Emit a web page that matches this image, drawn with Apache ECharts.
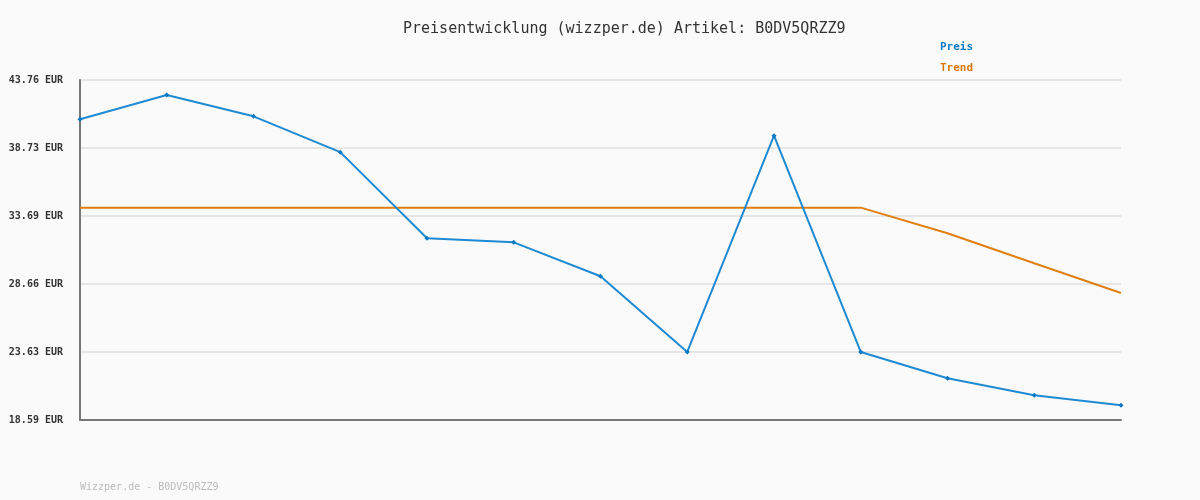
<!DOCTYPE html>
<html>
<head>
<meta charset="utf-8">
<script src="https://cdn.jsdelivr.net/npm/echarts@6/dist/echarts.min.js"></script>
<style>html,body{margin:0;padding:0;background:#fafafa}#c{width:1200px;height:500px}</style>
</head>
<body>
<div id="c"></div>
<script>
const categories = ['1','2','3','4','5','6','7','8','9','10','11','12','13'];
const preis = [40.85, 42.65, 41.07, 38.42, 32.04, 31.74, 29.23, 23.63, 39.64, 23.63, 21.68, 20.42, 19.68];
const trend = [34.31, 34.31, 34.31, 34.31, 34.31, 34.31, 34.31, 34.31, 34.31, 34.31, 32.41, 30.19, 27.99];
const yMin = 18.59, yMax = 43.76;
const yTicks = [18.59, 23.63, 28.66, 33.69, 38.73, 43.76];
const titleText = 'Preisentwicklung (wizzper.de) Artikel: B0DV5QRZZ9';
const footerText = 'Wizzper.de - B0DV5QRZZ9';

const chart = echarts.init(document.getElementById('c'), null, {renderer: 'canvas'});
const mono = '"DejaVu Sans Mono", "Liberation Mono", monospace';
chart.setOption({
  backgroundColor: '#fafafa',
  animation: false,
  title: {
    text: titleText, left: 398, top: 17,
    textStyle: {fontFamily: mono, fontSize: 15, fontWeight: 'normal', color: '#333'}
  },
  legend: {
    orient: 'vertical', left: 935, top: 37, itemGap: 10,
    itemWidth: 0, itemHeight: 0, icon: 'rect',
    textStyle: {fontFamily: mono, fontSize: 11, fontWeight: 'bold', padding: [0,0,0,-5]},
    data: [
      {name: 'Preis', textStyle: {color: '#0a7bc8'}},
      {name: 'Trend', textStyle: {color: '#d9780a'}}
    ]
  },
  graphic: [{
    type: 'text', left: 80, top: 482,
    style: {text: footerText, fill: '#bbbbbb', font: '10px ' + mono}
  }],
  grid: {left: 80, right: 79, top: 80, bottom: 80, containLabel: false},
  xAxis: {
    type: 'category', data: categories, boundaryGap: false,
    axisLine: {lineStyle: {color: '#777', width: 2}},
    axisTick: {show: false}, axisLabel: {show: false}, splitLine: {show: false}
  },
  yAxis: {
    type: 'value', min: yMin, max: yMax, interval: (yMax - yMin) / 5,
    axisLine: {show: true, lineStyle: {color: '#777', width: 2}},
    axisTick: {show: false},
    axisLabel: {
      fontFamily: mono, fontSize: 10, fontWeight: 'bold', color: '#333', margin: 17,
      formatter: function (v) {
        let best = yTicks[0];
        yTicks.forEach(t => { if (Math.abs(t - v) < Math.abs(best - v)) best = t; });
        return best.toFixed(2) + ' EUR';
      }
    },
    splitLine: {lineStyle: {color: '#e6e6e6', width: 2}}
  },
  series: [
    {
      name: 'Preis', type: 'line', data: preis, color: '#0a7bc8',
      symbol: 'diamond', symbolSize: 5, showSymbol: true,
      lineStyle: {color: '#1f8ad2', width: 2},
      itemStyle: {color: '#0a78c4'}, z: 3
    },
    {
      name: 'Trend', type: 'line', data: trend, color: '#d9780a',
      symbol: 'none',
      lineStyle: {color: '#e07f12', width: 2}, z: 2
    }
  ]
});
</script>
</body>
</html>
